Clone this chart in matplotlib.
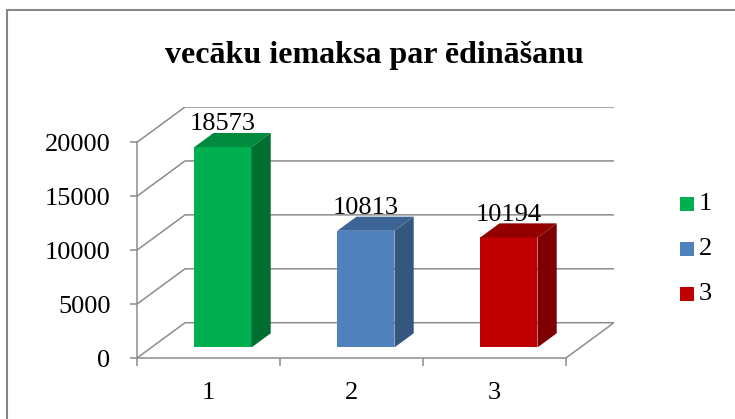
import matplotlib
matplotlib.use("Agg")
import matplotlib.pyplot as plt
from matplotlib.patches import Polygon, Rectangle
from matplotlib.lines import Line2D

plt.rcParams['font.family'] = ['Liberation Serif', 'DejaVu Serif']

# data
categories = ["1", "2", "3"]
values = [18573, 10813, 10194]
title = "vecāku iemaksa par ēdināšanu"
y_ticks = [0, 5000, 10000, 15000, 20000]

front_col = ["#00B050", "#4F81BD", "#C00000"]
top_col = ["#008A3E", "#3C6595", "#920000"]
side_col = ["#006E30", "#35567F", "#7F0000"]

W, H = 735, 419
fig = plt.figure(figsize=(W / 100, H / 100), dpi=100)

# depth offset of the 3D box, in data units
ddx = 0.336
ddy = 3271
ymax = 20000

ax = fig.add_axes([137 / W, (H - 358) / H, 477 / W, 251 / H])
ax.set_xlim(0, len(categories) + ddx)
ax.set_ylim(0, ymax + ddy)
ax.patch.set_visible(False)

grid_c = "#8c8c8c"
lw = 1.1
fs = 19

# walls: gridlines running back along the side wall then across the back
for v in y_ticks:
    ax.plot([0, ddx, len(categories) + ddx], [v, v + ddy, v + ddy],
            color=grid_c, lw=lw, zorder=1, solid_capstyle="butt")
# floor right edge
ax.plot([len(categories), len(categories) + ddx], [0, ddy],
        color=grid_c, lw=lw, zorder=1)

for s in ["top", "right"]:
    ax.spines[s].set_visible(False)
ax.spines["left"].set_bounds(0, ymax)
ax.spines["bottom"].set_bounds(0, len(categories))
for s in ["left", "bottom"]:
    ax.spines[s].set_color(grid_c)
    ax.spines[s].set_linewidth(lw)

ax.set_yticks(y_ticks)
ax.set_yticklabels([str(v) for v in y_ticks])
ax.tick_params(axis="y", length=5, width=lw, color=grid_c, pad=14,
               labelsize=fs)
ax.set_xticks(range(len(categories) + 1))
ax.set_xticklabels([])
ax.set_xticks([i + 0.5 for i in range(len(categories))], minor=True)
ax.set_xticklabels(categories, minor=True)
ax.tick_params(axis="x", which="major", length=6, width=lw, color=grid_c)
ax.tick_params(axis="x", which="minor", length=0, pad=17, labelsize=fs)

# bars
d0, d1 = 0.3, 0.7   # depth range of the bars
for i, v in enumerate(values):
    x0 = i + 0.3 + d0 * ddx
    x1 = x0 + 0.4
    b = d0 * ddy
    ox = (d1 - d0) * ddx
    oy = (d1 - d0) * ddy
    front = Polygon([(x0, b), (x1, b), (x1, b + v), (x0, b + v)],
                    closed=True, fc=front_col[i], ec="none", zorder=3)
    top = Polygon([(x0, b + v), (x1, b + v), (x1 + ox, b + v + oy),
                   (x0 + ox, b + v + oy)],
                  closed=True, fc=top_col[i], ec="none", zorder=3)
    side = Polygon([(x1, b), (x1 + ox, b + oy), (x1 + ox, b + v + oy),
                    (x1, b + v)],
                   closed=True, fc=side_col[i], ec="none", zorder=3)
    for p in (front, top, side):
        ax.add_patch(p)
    ax.annotate(str(v), xy=((x0 + x1) / 2, b + v + oy), xytext=(0, 2),
                textcoords="offset points", ha="center", va="baseline",
                fontsize=fs, zorder=4)

fig.text(374 / W, 1 - 55 / H, title, ha="center", va="center",
         fontsize=23, fontweight="bold")

# legend
for i, lab in enumerate(categories):
    yc = 204 + 45 * i
    fig.add_artist(Rectangle((680 / W, 1 - (yc + 7) / H), 14 / W, 14 / H,
                             transform=fig.transFigure, fc=front_col[i],
                             ec="none"))
    fig.text(699 / W, 1 - yc / H, lab, ha="left", va="center", fontsize=fs)

# chart border (left and top)
bc = "#868686"
fig.add_artist(Line2D([7.5 / W, 7.5 / W, 1], [0, 1 - 10.5 / H, 1 - 10.5 / H],
                      transform=fig.transFigure, color=bc, lw=1.5))

fig.savefig("out.png", dpi=100)
